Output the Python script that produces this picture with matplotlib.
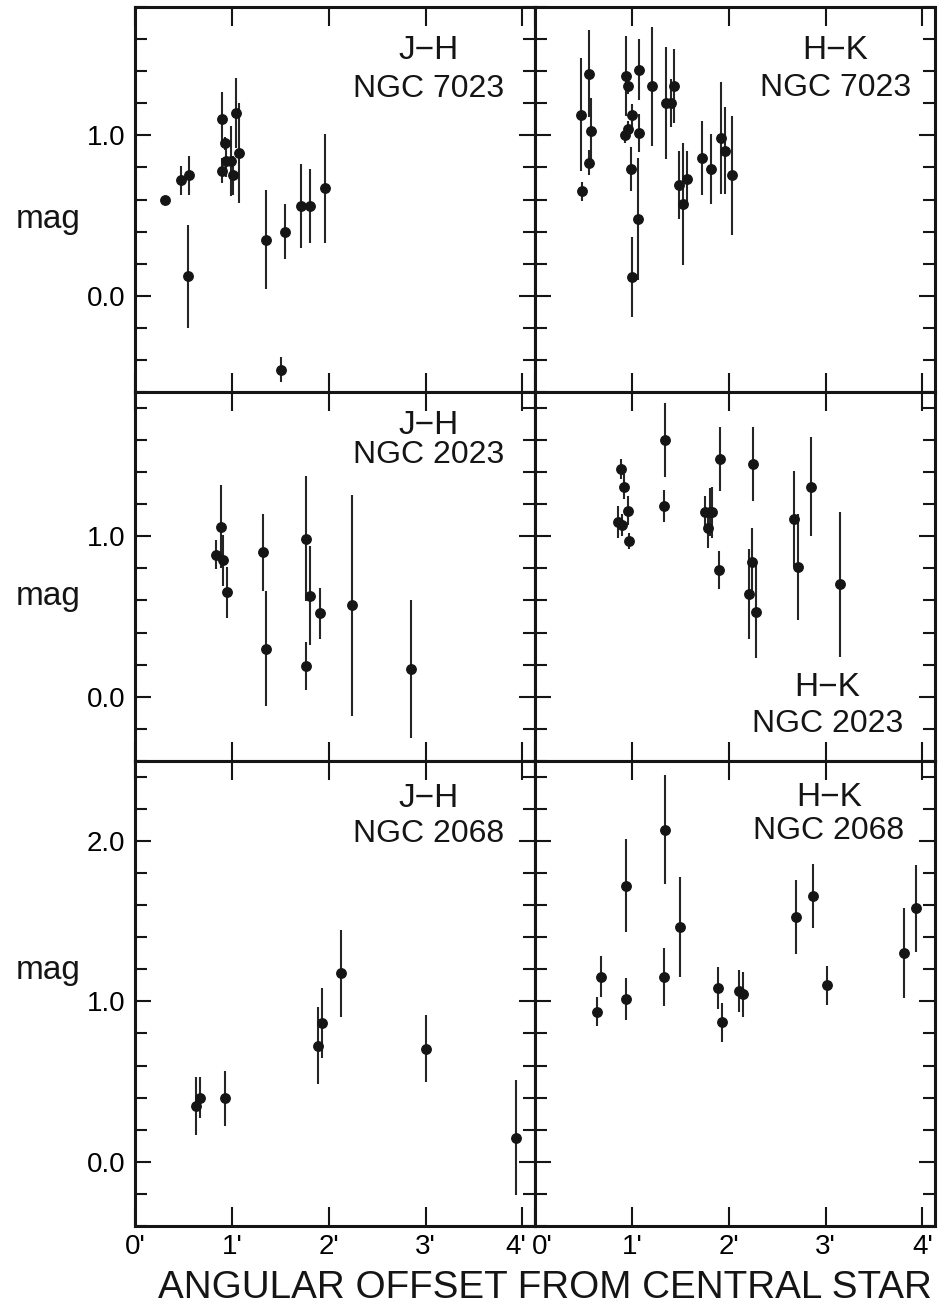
import matplotlib
matplotlib.use("Agg")
import matplotlib.pyplot as plt
from matplotlib.ticker import MultipleLocator, FixedLocator
from matplotlib.transforms import ScaledTranslation

plt.rcParams['font.family'] = ['Liberation Sans', 'DejaVu Sans']

# angular offset from the central star (arcmin), colour (mag), 1-sigma error

# NGC 7023
jh_7023_x = [0.31, 0.47, 0.56, 0.55, 0.90, 0.93, 0.90, 0.94, 0.99, 1.01, 1.04, 1.07,
             1.35, 1.51, 1.55, 1.71, 1.81, 1.96]
jh_7023_y = [0.60, 0.72, 0.75, 0.12, 1.10, 0.95, 0.78, 0.84, 0.84, 0.75, 1.14, 0.89,
             0.35, -0.46, 0.40, 0.56, 0.56, 0.67]
jh_7023_e = [0.02, 0.09, 0.12, 0.32, 0.17, 0.04, 0.08, 0.10, 0.22, 0.12, 0.22, 0.31,
             0.31, 0.08, 0.17, 0.26, 0.23, 0.34]

hk_7023_x = [0.48, 0.555, 0.58, 0.555, 0.49, 0.94, 0.96, 1.00, 0.96, 0.93, 1.075, 1.07,
             0.99, 1.06, 1.00, 1.21, 1.35, 1.40, 1.44, 1.49, 1.57, 1.53, 1.72, 1.82,
             1.92, 1.96, 2.03]
hk_7023_y = [1.13, 1.385, 1.03, 0.83, 0.65, 1.37, 1.31, 1.125, 1.04, 1.00, 1.41, 1.015,
             0.79, 0.48, 0.115, 1.305, 1.20, 1.20, 1.31, 0.69, 0.725, 0.57, 0.86, 0.79,
             0.985, 0.905, 0.75]
hk_7023_e = [0.35, 0.27, 0.20, 0.08, 0.06, 0.25, 0.05, 0.07, 0.05, 0.05, 0.19, 0.12,
             0.14, 0.38, 0.25, 0.37, 0.35, 0.15, 0.23, 0.21, 0.18, 0.38, 0.23, 0.22,
             0.35, 0.27, 0.37]

# NGC 2023
jh_2023_x = [0.84, 0.885, 0.91, 0.95, 1.32, 1.35, 1.77, 1.81, 1.77, 1.905, 2.24, 2.85]
jh_2023_y = [0.885, 1.06, 0.85, 0.65, 0.90, 0.30, 0.985, 0.63, 0.19, 0.52, 0.57, 0.17]
jh_2023_e = [0.09, 0.26, 0.16, 0.16, 0.24, 0.36, 0.39, 0.31, 0.15, 0.16, 0.69, 0.43]

hk_2023_x = [0.89, 0.92, 0.965, 0.855, 0.90, 0.97, 1.34, 1.33, 1.76, 1.805, 1.83, 1.79,
             1.91, 1.90, 2.25, 2.24, 2.21, 2.28, 2.67, 2.72, 2.85, 3.15]
hk_2023_y = [1.42, 1.31, 1.16, 1.09, 1.07, 0.97, 1.60, 1.19, 1.15, 1.15, 1.15, 1.05,
             1.48, 0.79, 1.45, 0.84, 0.64, 0.53, 1.11, 0.81, 1.31, 0.70]
hk_2023_e = [0.06, 0.08, 0.09, 0.10, 0.07, 0.05, 0.23, 0.10, 0.10, 0.15, 0.16, 0.12,
             0.20, 0.12, 0.23, 0.21, 0.28, 0.29, 0.30, 0.33, 0.31, 0.45]

# NGC 2068
jh_2068_x = [0.63, 0.67, 0.93, 1.89, 1.93, 2.13, 3.00, 3.93]
jh_2068_y = [0.35, 0.40, 0.395, 0.725, 0.865, 1.175, 0.705, 0.15]
jh_2068_e = [0.18, 0.13, 0.17, 0.24, 0.22, 0.27, 0.21, 0.36]

hk_2068_x = [0.64, 0.68, 0.94, 0.94, 1.34, 1.33, 1.50, 1.89, 1.93, 2.11, 2.15, 2.70,
             2.87, 3.02, 3.81, 3.93]
hk_2068_y = [0.935, 1.155, 1.72, 1.015, 2.07, 1.15, 1.465, 1.085, 0.87, 1.065, 1.045,
             1.525, 1.655, 1.10, 1.30, 1.58]
hk_2068_e = [0.09, 0.13, 0.29, 0.13, 0.34, 0.18, 0.31, 0.13, 0.12, 0.13, 0.14, 0.23,
             0.20, 0.12, 0.28, 0.27]

colour_names = ['J\u2212H', 'H\u2212K']
cluster_names = ['NGC 7023', 'NGC 2023', 'NGC 2068']
x_tick_values = [0, 1, 2, 3, 4]
x_tick_labels = ["0'", "1'", "2'", "3'", "4'"]
row_ylims = [(-0.6, 1.8), (-0.4, 1.9), (-0.4, 2.5)]

panels = [
    [(jh_7023_x, jh_7023_y, jh_7023_e), (hk_7023_x, hk_7023_y, hk_7023_e)],
    [(jh_2023_x, jh_2023_y, jh_2023_e), (hk_2023_x, hk_2023_y, hk_2023_e)],
    [(jh_2068_x, jh_2068_y, jh_2068_e), (hk_2068_x, hk_2068_y, hk_2068_e)],
]

# where the two-line labels sit in each panel (axes fraction): x, y colour, y cluster
label_pos = [
    [(0.735, 0.886, 0.786), (0.751, 0.886, 0.789)],
    [(0.735, 0.908, 0.830), (0.731, 0.200, 0.100)],
    [(0.734, 0.918, 0.843), (0.735, 0.922, 0.849)],
]
mag_y = [0.425, 0.422, 0.530]

fig = plt.figure(figsize=(9.45, 13.06), dpi=100)
gs = fig.add_gridspec(3, 2, left=0.1429, right=0.9894, top=0.9946, bottom=0.0613,
                      hspace=0, wspace=0, height_ratios=[2.4, 2.3, 2.9])

ink = '#151515'
for r in range(3):
    for c in range(2):
        ax = fig.add_subplot(gs[r, c])
        x, y, e = panels[r][c]
        ax.errorbar(x, y, yerr=e, fmt='o', color=ink, ecolor='#252525',
                    ms=6.8, elinewidth=1.5, capsize=0, zorder=3)
        ax.set_xlim(0, 4.13)
        ax.set_ylim(*row_ylims[r])

        ax.xaxis.set_major_locator(FixedLocator(x_tick_values))
        ax.yaxis.set_major_locator(MultipleLocator(1.0))
        ax.yaxis.set_minor_locator(MultipleLocator(0.2))
        ax.tick_params(axis='both', which='both', direction='in',
                       top=True, bottom=True, left=True, right=True,
                       width=1.5, labelsize=20, color=ink)
        ax.tick_params(axis='x', which='major', length=13.5, pad=6)
        ax.tick_params(axis='y', which='major', length=11.5, pad=7)
        ax.tick_params(axis='y', which='minor', length=8.6)
        for sp in ax.spines.values():
            sp.set_linewidth(2.2)
            sp.set_color(ink)

        if r == 2:
            ax.set_xticklabels(x_tick_labels)
            labels = ax.get_xticklabels()
            # keep "4'" and "0'" apart where the two panels meet
            if c == 0:
                lab = labels[-1]
                lab.set_transform(lab.get_transform() +
                                  ScaledTranslation(-5 / 72, 0, fig.dpi_scale_trans))
            else:
                lab = labels[0]
                lab.set_transform(lab.get_transform() +
                                  ScaledTranslation(5 / 72, 0, fig.dpi_scale_trans))
        else:
            ax.set_xticklabels([])
        if c == 0:
            ax.yaxis.set_major_formatter(lambda v, p: '%.1f' % v)
            ax.text(-0.216, mag_y[r], 'mag', transform=ax.transAxes,
                    ha='center', va='baseline', fontsize=24, color=ink)
        else:
            ax.set_yticklabels([])

        lx, ly1, ly2 = label_pos[r][c]
        ax.text(lx, ly1, colour_names[c], transform=ax.transAxes,
                ha='center', va='center', fontsize=24, color=ink)
        ax.text(lx, ly2, cluster_names[r], transform=ax.transAxes,
                ha='center', va='center', fontsize=23, color=ink)

fig.text(0.577, 0.0062, 'ANGULAR OFFSET FROM CENTRAL STAR', ha='center',
         va='baseline', fontsize=27.8, color=ink)

fig.savefig('out.png', dpi=100)
